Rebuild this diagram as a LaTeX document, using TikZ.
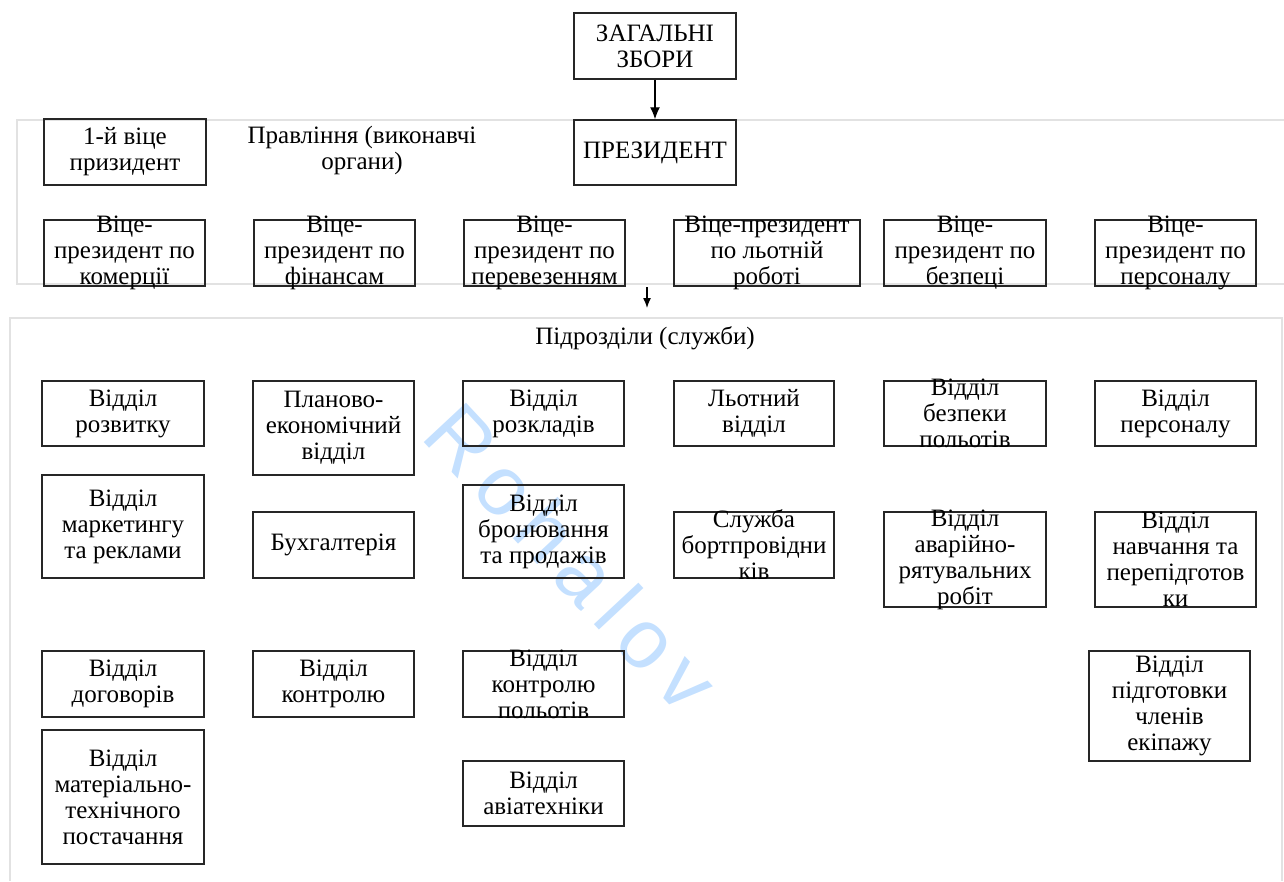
\documentclass[tikz,border=0pt]{standalone}
\usepackage{fontspec}
\setmainfont{Liberation Serif}
\newfontfamily\wmfont[LetterSpace=15]{Liberation Sans}
\usetikzlibrary{arrows.meta}
\definecolor{framegray}{RGB}{226,226,226}
\definecolor{wmblue}{RGB}{196,224,255}
\newcommand\mybox[6]{%
  \node[box, minimum width={(#4-#2)*1pt}, minimum height={(#5-#3)*1pt}] (#1) at ({(#2+#4)/2},{(#3+#5)/2}) {};
  \node[txt] (#1t) at (#1) {#6};}
\begin{document}
\begin{tikzpicture}[x=1pt,y=-1pt,
  box/.style={draw=black!85, line width=1.5pt, inner sep=0pt},
  txt/.style={align=center, inner sep=0pt, font=\fontsize{25}{26}\selectfont},
  fr/.style={draw=framegray, line width=2.5pt},
  arr/.style={-{Latex[length=12pt,width=10pt]}, line width=1.3pt},
  sarr/.style={-{Latex[length=10pt,width=8pt]}, line width=1.3pt}]
\useasboundingbox (0,0) rectangle (1284,881);
% watermark
\node[rotate=-47, text=wmblue, font=\wmfont\fontsize{84}{84}\selectfont, inner sep=0pt] (wmark) at (572,557) {Rohalov};
% frames
\draw[fr] (1284,120) -- (17,120) -- (17,284) -- (1284,284);
\draw[fr] (10,881) -- (10,318) -- (1282,318) -- (1282,881);
% top
\mybox{zbory}{574}{13}{736}{79}{ЗАГАЛЬНІ\\ЗБОРИ}
\mybox{pres}{574}{120}{736}{185}{ПРЕЗИДЕНТ}
\mybox{vp1}{44}{119}{206}{185}{1-й віце\\призидент}
\node[txt] (prav) at (362,150) {Правління (виконавчі\\органи)};
\draw[arr] (zbory) -- (pres);
% vice presidents
\mybox{vpa}{44}{220}{205}{286}{Віце-\\президент по\\комерції}
\mybox{vpb}{254}{220}{415}{286}{Віце-\\президент по\\фінансам}
\mybox{vpc}{464}{220}{625}{286}{Віце-\\президент по\\перевезенням}
\mybox{vpd}{674}{220}{860}{286}{Віце-президент\\по льотній\\роботі}
\mybox{vpe}{884}{220}{1046}{286}{Віце-\\президент по\\безпеці}
\mybox{vpf}{1095}{220}{1256}{286}{Віце-\\президент по\\персоналу}
% arrow between frames
\coordinate (upf) at (647,287);
\coordinate (lowf) at (647,308);
\draw[sarr] (upf) -- (lowf);
\node[txt] (pidr) at (645,338) {Підрозділи (служби)};
% column 1
\mybox{c1a}{42}{381}{204}{446}{Відділ\\розвитку}
\mybox{c1b}{42}{475}{204}{578}{Відділ\\маркетингу\\та реклами}
\mybox{c1c}{42}{651}{204}{717}{Відділ\\договорів}
\mybox{c1d}{42}{730}{204}{864}{Відділ\\матеріально-\\технічного\\постачання}
% column 2
\mybox{c2a}{253}{381}{414}{475}{Планово-\\економічний\\відділ}
\mybox{c2b}{253}{512}{414}{578}{Бухгалтерія}
\mybox{c2c}{253}{651}{414}{717}{Відділ\\контролю}
% column 3
\mybox{c3a}{463}{381}{624}{446}{Відділ\\розкладів}
\mybox{c3b}{463}{485}{624}{578}{Відділ\\бронювання\\та продажів}
\mybox{c3c}{463}{651}{624}{717}{Відділ\\контролю\\польотів}
\mybox{c3d}{463}{761}{624}{826}{Відділ\\авіатехніки}
% column 4
\mybox{c4a}{674}{381}{834}{446}{Льотний\\відділ}
\mybox{c4b}{674}{512}{834}{578}{Служба\\бортпровідни\\ків}
% column 5
\mybox{c5a}{884}{381}{1046}{446}{Відділ\\безпеки\\польотів}
\mybox{c5b}{884}{512}{1046}{607}{Відділ\\аварійно-\\рятувальних\\робіт}
% column 6
\mybox{c6a}{1095}{381}{1256}{446}{Відділ\\персоналу}
\mybox{c6b}{1095}{512}{1256}{607}{Відділ\\навчання та\\перепідготов\\ки}
\mybox{c6c}{1089}{651}{1250}{761}{Відділ\\підготовки\\членів\\екіпажу}
\end{tikzpicture}
\end{document}
